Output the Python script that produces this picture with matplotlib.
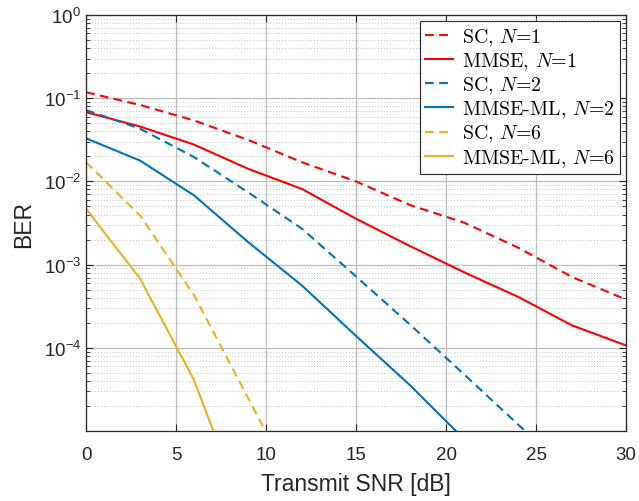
import numpy as np
import matplotlib
matplotlib.use("Agg")
import matplotlib.pyplot as plt
from matplotlib.ticker import LogLocator, FixedLocator, NullFormatter
from matplotlib.font_manager import FontProperties

plt.rcParams['font.family'] = ['Liberation Sans', 'DejaVu Sans']
plt.rcParams['mathtext.fontset'] = 'custom'
plt.rcParams['mathtext.rm'] = 'Liberation Sans'
plt.rcParams['mathtext.it'] = 'Liberation Sans:italic'

snr = [0, 3, 6, 9, 12, 15, 18, 21, 24, 27, 30]

sc_n1 = [0.118, 0.083, 0.054, 0.0316, 0.017, 0.010, 0.0052, 0.0032, 0.0016, 0.00071, 0.00038]
mmse_n1 = [0.068, 0.0457, 0.0277, 0.0142, 0.0081, 0.00356, 0.00167, 0.00081, 0.00041, 0.000186, 0.000107]
sc_n2 = [0.072, 0.043, 0.0196, 0.0074, 0.0027, 0.00072, 0.00019, 4.8e-5, 1.2e-5, 3e-6]
mmse_n2 = [0.033, 0.0178, 0.0068, 0.00187, 0.00056, 0.000139, 3.55e-5, 8e-6]
sc_n6 = [0.017, 0.0039, 0.00043, 2.5e-5, 1.5e-6]
mmse_n6 = [0.0047, 0.00068, 4.1e-5, 8e-7]

labels = ['SC, $N$=1', 'MMSE, $N$=1', 'SC, $N$=2', 'MMSE-ML, $N$=2',
          'SC, $N$=6', 'MMSE-ML, $N$=6']

red = '#FF0000'
blue = '#0072BD'
orange = '#EDB120'

fig = plt.figure(figsize=(6.39, 5.02), dpi=100)
ax = fig.add_axes([0.1346, 0.1394, 0.8451, 0.8287])

dash = (4.2, 2.6)
lw = 1.5
series = [
    (sc_n1, red, True), (mmse_n1, red, False),
    (sc_n2, blue, True), (mmse_n2, blue, False),
    (sc_n6, orange, True), (mmse_n6, orange, False),
]
for (vals, col, dashed), lab in zip(series, labels):
    x = snr[:len(vals)]
    if dashed:
        ax.plot(x, vals, color=col, lw=lw, linestyle=(0, dash), label=lab)
    else:
        ax.plot(x, vals, color=col, lw=lw, linestyle='-', label=lab)

ax.set_yscale('log')
ax.set_xlim(0, 30)
ax.set_ylim(1e-5, 1)
ax.xaxis.set_major_locator(FixedLocator([0, 5, 10, 15, 20, 25, 30]))
ax.yaxis.set_major_locator(FixedLocator([1e-4, 1e-3, 1e-2, 1e-1, 1e0]))
ax.set_yticklabels([r'$10^{-4}$', r'$10^{-3}$', r'$10^{-2}$', r'$10^{-1}$', r'$10^{0}$'])
ax.yaxis.set_minor_locator(LogLocator(base=10, subs=np.arange(2, 10), numticks=20))
ax.yaxis.set_minor_formatter(NullFormatter())

edge = '#262626'
ax.tick_params(which='both', direction='in', top=True, right=True, colors=edge,
               labelcolor=edge, labelsize=13.5)
ax.tick_params(which='major', length=5, width=0.8)
ax.tick_params(which='minor', length=3, width=0.6)
ax.tick_params(axis='x', pad=11)
for s in ax.spines.values():
    s.set_color(edge)
    s.set_linewidth(0.9)

ax.grid(True, which='major', color='#bdbdbd', lw=0.9, linestyle='-')
ax.grid(True, which='minor', axis='y', color='#c4c4c4', lw=0.7, linestyle=(0, (1, 2)))
ax.set_axisbelow(True)

ax.set_xlabel('Transmit SNR [dB]', fontsize=16.5, color=edge, labelpad=6)
ax.set_ylabel('BER', fontsize=16.5, color=edge, labelpad=6)

prop = FontProperties(family='cmr10', size=14.3, math_fontfamily='cm')
leg = ax.legend(loc='upper right', prop=prop, handlelength=1.45, handletextpad=0.45,
                labelspacing=0.12, borderpad=0.25, borderaxespad=0.3,
                fancybox=False, framealpha=1, edgecolor=edge)
leg.get_frame().set_linewidth(0.8)

fig.savefig('out.png', dpi=100)
